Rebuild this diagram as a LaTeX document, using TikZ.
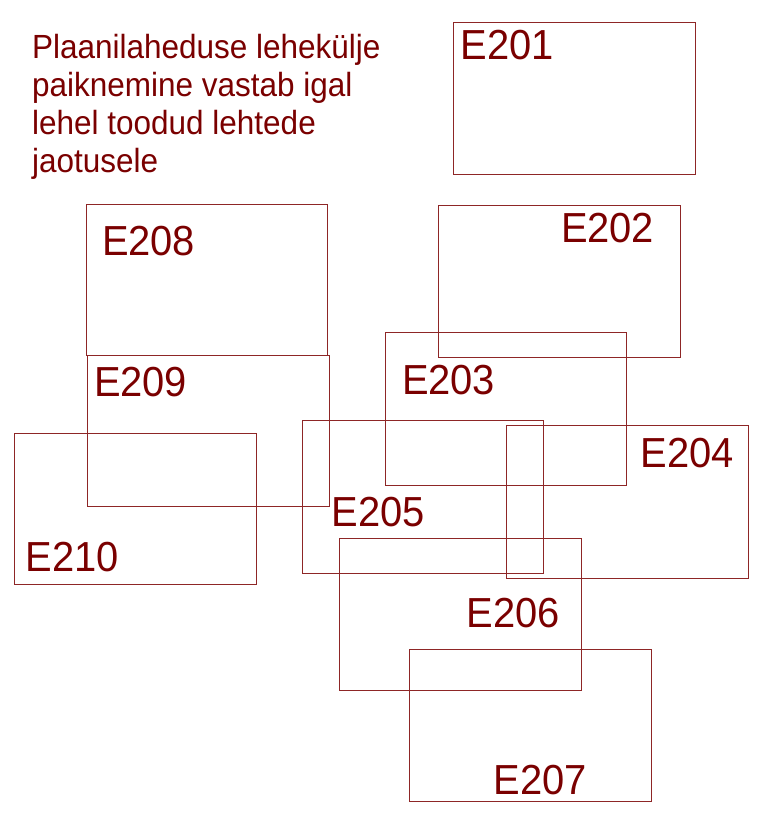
\documentclass[tikz,border=0pt]{standalone}
\usepackage{fontspec}
\setmainfont[FakeStretch=0.94]{Liberation Sans}
\newfontfamily\sheetfont[FakeStretch=0.95]{Liberation Sans}
\definecolor{planred}{RGB}{122,0,0}
\tikzset{
  sheet/.style={draw=planred!85,line width=0.9pt},
  sheetlabel/.style={anchor=base west,inner sep=0pt,text=planred,font=\sheetfont\fontsize{42}{48}\selectfont},
}
\begin{document}
\begin{tikzpicture}[x=1pt,y=-1pt]
    \useasboundingbox (0,0) rectangle (763,831);

    % Note
    \node[anchor=north west,inner sep=0pt,align=left,text=planred,
          font=\fontsize{33.5}{38}\selectfont] (note) at (32,34.5)
      {Plaanilaheduse lehekülje\\paiknemine vastab igal\\lehel toodud lehtede\\jaotusele};

    % Sheets
    \draw[sheet] (453.5,22.5) rectangle (695.3,174.7);
    \draw[sheet] (86,204.3) rectangle (327.7,355.7);
    \draw[sheet] (438.3,205) rectangle (680.3,357.3);
    \draw[sheet] (87.3,355.7) rectangle (329,506.9);
    \draw[sheet] (385,332) rectangle (626.7,485);
    \draw[sheet] (506.7,425.9) rectangle (748.7,578.3);
    \draw[sheet] (302,420.7) rectangle (543.8,573.3);
    \draw[sheet] (14.7,433.2) rectangle (256.7,584.7);
    \draw[sheet] (339.7,538.7) rectangle (581.7,690.9);
    \draw[sheet] (409.1,649.3) rectangle (651,801.3);

    % Labels
    \node[sheetlabel] (e201) at (460.5,59.3) {E201};
    \node[sheetlabel] (e202) at (560.8,242.7) {E202};
    \node[sheetlabel] (e203) at (401.8,394) {E203};
    \node[sheetlabel] (e204) at (640.2,467.7) {E204};
    \node[sheetlabel] (e205) at (331.2,526.7) {E205};
    \node[sheetlabel] (e206) at (466.2,627.3) {E206};
    \node[sheetlabel] (e207) at (493.5,794) {E207};
    \node[sheetlabel] (e208) at (101.8,255) {E208};
    \node[sheetlabel] (e209) at (93.8,396.7) {E209};
    \node[sheetlabel] (e210) at (25.2,571.7) {E210};

  \end{tikzpicture}
\end{document}
